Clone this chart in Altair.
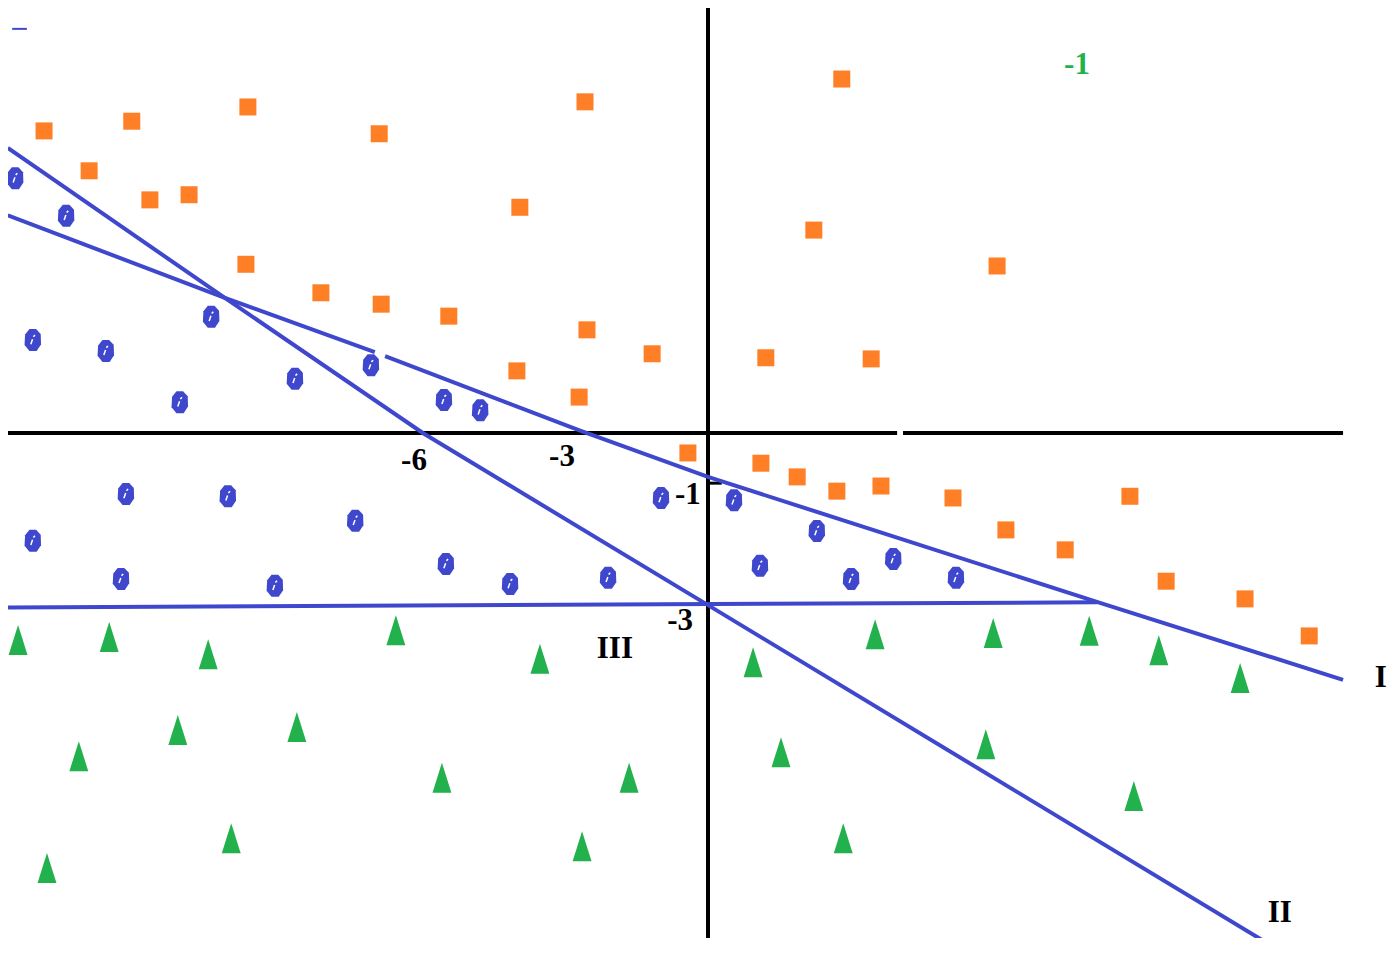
import altair as alt
import pandas as pd

# ---------------- data (coordinate-plane units) ----------------
orange_x = [-13.55, -11.76, -9.39, -6.71, -2.51, 2.73, -12.63, -11.39, -10.59, -3.84,
            2.16, 5.90, -9.43, -7.90, -6.67, -5.29, -2.47, -1.14, 1.18, 3.33,
            -3.90, -2.63, -0.41, 1.08, 1.82, 2.63, 3.53, 5.00, 8.61, 6.08,
            7.29, 9.35, 10.96, 12.27]
orange_y = [5.30, 5.47, 5.72, 5.25, 5.81, 6.21, 4.60, 4.09, 4.18, 3.96,
            3.56, 2.93, 2.96, 2.46, 2.26, 2.05, 1.81, 1.39, 1.32, 1.30,
            1.09, 0.63, -0.35, -0.53, -0.77, -1.02, -0.93, -1.14, -1.11, -1.70,
            -2.05, -2.60, -2.91, -3.56]

blue_x = [-14.14, -13.10, -13.78, -12.29, -10.14, -10.78, -8.43, -6.88, -5.39, -4.65,
          -11.88, -9.80, -13.78, -7.20, -11.98, -8.84, -5.35, -4.04, -2.04, -0.96,
          0.53, 2.22, 1.06, 2.92, 3.78, 5.06]
blue_y = [4.47, 3.81, 1.63, 1.44, 2.04, 0.54, 0.95, 1.19, 0.58, 0.40,
          -1.07, -1.11, -1.89, -1.54, -2.56, -2.68, -2.30, -2.65, -2.54, -1.14,
          -1.18, -1.72, -2.33, -2.56, -2.21, -2.54]

green_x = [-14.08, -12.22, -10.20, -6.37, -3.43, 0.92, 3.41, 5.82, 7.78, 9.20,
           10.86, -12.84, -10.82, -8.39, -5.43, -1.61, 1.49, 5.67, 8.69, -13.49,
           -9.73, -2.57, 2.76]
green_y = [-3.63, -3.58, -3.88, -3.46, -3.96, -4.02, -3.53, -3.51, -3.47, -3.81,
           -4.30, -5.67, -5.21, -5.16, -6.05, -6.05, -5.60, -5.46, -6.37, -7.63,
           -7.11, -7.25, -7.11]

line1_x = [-14.29, -9.86, -6.80, -6.59, -2.61, 0.00, 8.00, 12.96]
line1_y = [3.82, 2.37, 1.42, 1.35, 0.04, -0.77, -2.98, -4.33]
line1_seg = [0, 0, 0, 1, 1, 1, 1, 1]

line2_x = [-14.29, -9.86, -5.82, 0.00, 11.78]
line2_y = [5.00, 2.37, 0.00, -3.02, -9.14]

line3_x = [-14.29, 7.94]
line3_y = [-3.06, -2.97]

label_text = ["-6", "-3", "-1", "-3", "III", "II", "I"]
label_x = [-6.00, -2.98, -0.41, -0.57, -1.90, 11.67, 13.73]
label_y = [-0.49, -0.42, -1.09, -3.30, -3.79, -8.42, -4.30]

green_label_text = ["-1"]
green_label_x = [7.53]
green_label_y = [6.46]

xaxis_x = [-14.29, 3.98]
xaxis_x2 = [3.86, 12.96]
yaxis_y = [7.46]
yaxis_y2 = [-8.86]

# ---------------- styling ----------------
BLUE = "#3F48CC"
ORANGE = "#FF7F27"
GREEN = "#22B14C"
FONT = "Liberation Serif"

XS = alt.Scale(domain=[-14.2857, 13.8571], nice=False, zero=False)
YS = alt.Scale(domain=[-8.8596, 7.4561], nice=False, zero=False)


def X(f="x"):
    return alt.X(f"{f}:Q", scale=XS, axis=None)


def Y(f="y"):
    return alt.Y(f"{f}:Q", scale=YS, axis=None)


orange_df = pd.DataFrame({"x": orange_x, "y": orange_y})
blue_df = pd.DataFrame({"x": blue_x, "y": blue_y})
green_df = pd.DataFrame({"x": green_x, "y": green_y})
l1 = pd.DataFrame({"x": line1_x, "y": line1_y, "seg": line1_seg})
l2 = pd.DataFrame({"x": line2_x, "y": line2_y})
l3 = pd.DataFrame({"x": line3_x, "y": line3_y})
lab = pd.DataFrame({"t": label_text, "x": label_x, "y": label_y})
glab = pd.DataFrame({"t": green_label_text, "x": green_label_x, "y": green_label_y})
xa = pd.DataFrame({"x": xaxis_x, "x2": xaxis_x2, "y": [0.0, 0.0]})
ya = pd.DataFrame({"x": [0.0], "y": yaxis_y, "y2": yaxis_y2})
tick = pd.DataFrame({"x": [0.0], "x2": [0.28], "y": [-0.88]})
dash = pd.DataFrame({"x": [-14.2], "x2": [-13.9], "y": [7.09]})

x_axis = alt.Chart(xa).mark_rule(color="black", strokeWidth=4).encode(
    x=X(), x2="x2:Q", y=Y())
y_axis = alt.Chart(ya).mark_rule(color="black", strokeWidth=4).encode(
    x=X(), y=Y(), y2="y2:Q")
y_tick = alt.Chart(tick).mark_rule(color="black", strokeWidth=3).encode(
    x=X(), x2="x2:Q", y=Y())
top_dash = alt.Chart(dash).mark_rule(color=BLUE, strokeWidth=2).encode(
    x=X(), x2="x2:Q", y=Y())

line_I = alt.Chart(l1).mark_line(color=BLUE, strokeWidth=4, clip=True).encode(
    x=X(), y=Y(), detail="seg:N")
line_II = alt.Chart(l2).mark_line(color=BLUE, strokeWidth=4, clip=True).encode(
    x=X(), y=Y())
line_III = alt.Chart(l3).mark_line(color=BLUE, strokeWidth=4, clip=True).encode(
    x=X(), y=Y())

squares = alt.Chart(orange_df).mark_point(
    shape="square", filled=True, fill=ORANGE, opacity=1, size=289, strokeWidth=0
).encode(x=X(), y=Y())

TRI = "M0,-1L0.63,1L-0.63,1Z"
triangles = alt.Chart(green_df).mark_point(
    shape=TRI, filled=True, fill=GREEN, opacity=1, size=900, strokeWidth=0
).encode(x=X(), y=Y())

BLOB = "M-0.3,-1L0.3,-1L0.72,-0.55L0.75,0.4L0.35,1L-0.3,1L-0.75,0.45L-0.7,-0.5Z"
blobs = alt.Chart(blue_df).mark_point(
    shape=BLOB, filled=True, fill=BLUE, opacity=1, size=484, strokeWidth=0
).encode(x=X(), y=Y())
MARK = "M0.2,-0.45L0.05,-0.3M-0.02,-0.08L-0.18,0.38"
blob_marks = alt.Chart(blue_df).mark_point(
    shape=MARK, filled=False, stroke="white", opacity=1, size=484, strokeWidth=1.5
).encode(x=X(), y=Y())

labels = alt.Chart(lab).mark_text(
    font=FONT, fontWeight="bold", fontSize=31, color="black",
    align="center", baseline="middle"
).encode(x=X(), y=Y(), text="t:N")
green_labels = alt.Chart(glab).mark_text(
    font=FONT, fontWeight="bold", fontSize=31, color=GREEN,
    align="center", baseline="middle"
).encode(x=X(), y=Y(), text="t:N")

chart = alt.layer(
    x_axis, y_axis, y_tick, top_dash,
    line_I, line_II, line_III,
    squares, triangles, blobs, blob_marks,
    labels, green_labels,
).properties(
    width=1379, height=930,
    padding=0,
    autosize=alt.AutoSizeParams(type="none"),
    background="white",
).configure_view(stroke=None)

chart.save("out.html", embed_options={"renderer": "svg", "actions": False})
